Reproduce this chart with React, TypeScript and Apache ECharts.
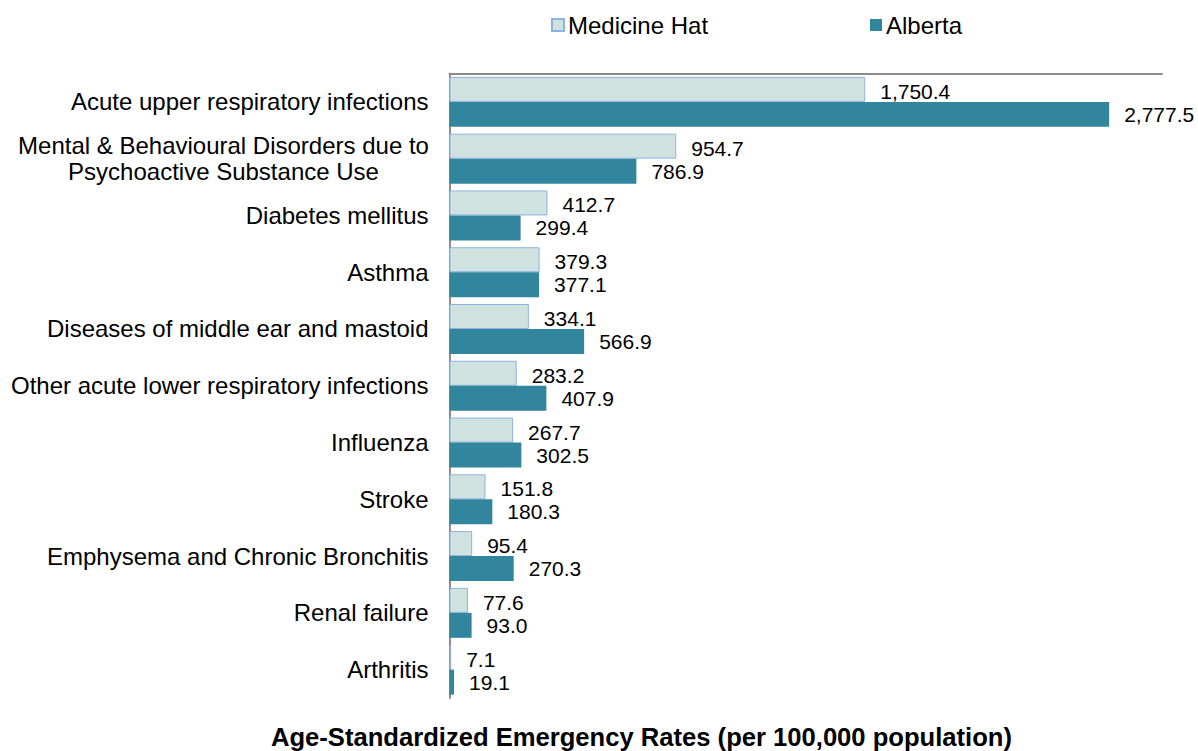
import React, { useEffect, useRef } from "react";
import * as echarts from "echarts";

const categories = [
  "Acute upper respiratory infections",
  "Mental & Behavioural Disorders due to\nPsychoactive Substance Use",
  "Diabetes mellitus",
  "Asthma",
  "Diseases of middle ear and mastoid",
  "Other acute lower respiratory infections",
  "Influenza",
  "Stroke",
  "Emphysema and Chronic Bronchitis",
  "Renal failure",
  "Arthritis",
];

const medicineHat = [1750.4, 954.7, 412.7, 379.3, 334.1, 283.2, 267.7, 151.8, 95.4, 77.6, 7.1];
const alberta = [2777.5, 786.9, 299.4, 377.1, 566.9, 407.9, 302.5, 180.3, 270.3, 93.0, 19.1];

const FONT = "'Liberation Sans', Arial, sans-serif";
const fmt = (v: number) =>
  v.toLocaleString("en-US", { minimumFractionDigits: 1, maximumFractionDigits: 1 });

export default function App() {
  const ref = useRef<HTMLDivElement>(null);

  useEffect(() => {
    if (!ref.current) return;
    const chart = echarts.init(ref.current, null, { renderer: "svg" });
    const valueLabel = {
      show: true,
      position: "right" as const,
      distance: 15,
      color: "#000",
      fontSize: 21,
      fontFamily: FONT,
      formatter: (p: any) => fmt(p.value),
    };
    const legendText = { fontSize: 24, color: "#000", fontFamily: FONT, padding: [0, 0, 0, -1] };
    chart.setOption({
      animation: false,
      textStyle: { fontFamily: FONT },
      legend: [
        {
          data: ["Medicine Hat"],
          left: 551,
          top: 13,
          padding: 0,
          itemWidth: 12,
          itemHeight: 12,
          itemGap: 0,
          icon: "rect",
          textStyle: legendText,
        },
        {
          data: ["Alberta"],
          left: 870,
          top: 13,
          padding: 0,
          itemWidth: 12,
          itemHeight: 12,
          itemGap: 0,
          icon: "rect",
          textStyle: legendText,
        },
      ],
      grid: { left: 449.5, right: 36, top: 73.5, bottom: 53, containLabel: false },
      xAxis: {
        type: "value",
        position: "top",
        min: 0,
        max: 3000,
        axisLine: { show: true, lineStyle: { color: "#8c8c8c", width: 2 } },
        axisTick: { show: false },
        axisLabel: { show: false },
        splitLine: { show: false },
      },
      yAxis: {
        type: "category",
        inverse: true,
        data: categories,
        axisLine: { show: true, lineStyle: { color: "#8c8c8c", width: 2 } },
        axisTick: { show: false },
        axisLabel: {
          color: "#000",
          fontSize: 24,
          fontFamily: FONT,
          margin: 21,
          lineHeight: 26,
          align: "right",
          // wrapped labels are centred line by line inside their block
          formatter: (v: string) =>
            v.includes("\n")
              ? v
                  .split("\n")
                  .map((line) => `{c|${line}}`)
                  .join("\n")
              : v,
          rich: {
            c: {
              width: 410,
              align: "center",
              fontSize: 24,
              lineHeight: 26,
              color: "#000",
              fontFamily: FONT,
            },
          },
        },
      },
      series: [
        {
          name: "Medicine Hat",
          type: "bar",
          data: medicineHat,
          barGap: "0%",
          barCategoryGap: "12%",
          itemStyle: { color: "#D0E2E0", borderColor: "#8DB3E2", borderWidth: 1 },
          label: { ...valueLabel, offset: [0, 2] },
        },
        {
          name: "Alberta",
          type: "bar",
          data: alberta,
          barGap: "0%",
          barCategoryGap: "12%",
          itemStyle: { color: "#31859C" },
          label: valueLabel,
        },
      ],
      graphic: [
        {
          type: "text",
          left: 271,
          top: 724,
          style: {
            text: "Age-Standardized Emergency Rates (per 100,000 population)",
            fill: "#000",
            font: `bold 25.6px ${FONT}`,
          },
        },
      ],
    });
    return () => chart.dispose();
  }, []);

  return (
    <div
      ref={ref}
      style={{ position: "absolute", left: 0, top: 0, width: 1198, height: 751 }}
    />
  );
}
